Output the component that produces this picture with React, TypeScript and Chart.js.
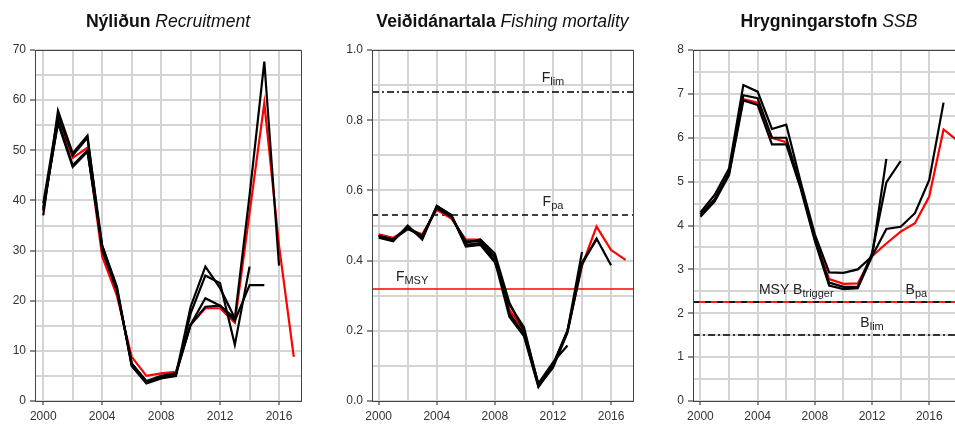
import React, { useEffect, useRef } from 'react';
import { Chart, registerables } from 'chart.js';

Chart.register(...registerables);

const FONT = "'Liberation Sans', Arial, Helvetica, sans-serif";

// ---------- Recruitment ----------
const recYears = [2000, 2001, 2002, 2003, 2004, 2005, 2006, 2007, 2008, 2009, 2010, 2011, 2012, 2013, 2014, 2015, 2016, 2017];
const recFinal = [38, 56, 48.5, 50.5, 28.8, 21, 8.8, 5.0, 5.5, 5.8, 15.2, 18.5, 18.5, 15.6, 37.5, 59.4, 31, 8.8];
const recRetro2016 = [37, 57.9, 49.4, 52.9, 30, 22, 7.5, 4.0, 5.0, 5.5, 15.2, 18.8, 19, 16.5, 41, 67.7, 27];
const recRetro2015 = [39.4, 57, 49, 52.5, 31, 22.5, 7.2, 3.8, 4.8, 5.3, 15.2, 20.5, 19, 16, 23.1, 23.1];
const recRetro2014 = [38.5, 55.4, 46.7, 49.7, 31, 22.8, 7, 3.5, 4.5, 5.0, 17.5, 25, 23.5, 11.2, 26.8];
const recRetro2013 = [38, 55.8, 47, 50, 30.5, 22, 7.5, 3.8, 4.6, 5.2, 18.8, 26.8, 22.5, 16.5];

// ---------- Fishing mortality ----------
const fYears = [2000, 2001, 2002, 2003, 2004, 2005, 2006, 2007, 2008, 2009, 2010, 2011, 2012, 2013, 2014, 2015, 2016, 2017];
const fFinal = [0.475, 0.465, 0.49, 0.475, 0.545, 0.52, 0.46, 0.46, 0.41, 0.26, 0.2, 0.045, 0.1, 0.2, 0.385, 0.497, 0.43, 0.402];
const fRetro2016 = [0.47, 0.46, 0.49, 0.47, 0.55, 0.525, 0.455, 0.455, 0.41, 0.25, 0.19, 0.042, 0.095, 0.195, 0.39, 0.463, 0.387];
const fRetro2015 = [0.47, 0.46, 0.495, 0.465, 0.555, 0.53, 0.445, 0.45, 0.4, 0.24, 0.185, 0.04, 0.1, 0.2, 0.395, 0.46];
const fRetro2014 = [0.465, 0.455, 0.5, 0.46, 0.556, 0.53, 0.44, 0.445, 0.395, 0.275, 0.21, 0.045, 0.105, 0.2, 0.425];
const fRetro2013 = [0.47, 0.46, 0.495, 0.47, 0.55, 0.525, 0.45, 0.46, 0.42, 0.28, 0.2, 0.05, 0.11, 0.158];
const fLim = 0.88;
const fPa = 0.53;
const fMsy = 0.32;

// ---------- SSB ----------
const ssbYears = [2000, 2001, 2002, 2003, 2004, 2005, 2006, 2007, 2008, 2009, 2010, 2011, 2012, 2013, 2014, 2015, 2016, 2017, 2018];
const ssbFinal = [4.25, 4.6, 5.2, 6.88, 6.8, 6.0, 5.9, 4.9, 3.7, 2.78, 2.67, 2.68, 3.3, 3.59, 3.86, 4.05, 4.66, 6.19, 5.93];
const ssbRetro2017 = [4.2, 4.55, 5.15, 6.85, 6.75, 5.85, 5.85, 4.85, 3.65, 2.63, 2.55, 2.57, 3.3, 3.92, 3.97, 4.28, 5.04, 6.8];
const ssbRetro2014 = [4.25, 4.6, 5.2, 6.97, 6.9, 6.0, 6.0, 4.9, 3.7, 2.7, 2.6, 2.6, 3.37, 4.98, 5.47];
const ssbRetro2013 = [4.3, 4.7, 5.3, 7.2, 7.05, 6.2, 6.3, 5.0, 3.8, 2.93, 2.92, 3.0, 3.3, 5.52];
const bTrigger = 2.25;
const bPa = 2.25;
const bLim = 1.5;

type RefLine = { value: number; colors: string[]; dash: number[]; width: number };
type RefLabel = { main: string; sub: string; xYear: number; value: number; offset: number };

type Panel = {
  canvasLeft: number;
  canvasWidth: number;
  yAxisWidth: number;
  padRight: number;
  xMin: number;
  xMax: number;
  yMax: number;
  yGridStep: number;
  yLabelStep: number;
  decimals: number;
  titleBold: string;
  titleItalic: string;
  series: { years: number[]; values: number[]; color: string }[];
  refLines: RefLine[];
  refLabels: RefLabel[];
};

const toPoints = (years: number[], values: number[]) => values.map((v, i) => ({ x: years[i], y: v }));

const panels: Panel[] = [
  {
    canvasLeft: 0,
    canvasWidth: 320,
    yAxisWidth: 35,
    padRight: 19,
    xMin: 1999.44,
    xMax: 2017.49,
    yMax: 70,
    yGridStep: 5,
    yLabelStep: 10,
    decimals: 0,
    titleBold: 'Nýliðun',
    titleItalic: 'Recruitment',
    series: [
      { years: recYears, values: recRetro2016, color: '#000' },
      { years: recYears, values: recRetro2015, color: '#000' },
      { years: recYears, values: recRetro2014, color: '#000' },
      { years: recYears, values: recRetro2013, color: '#000' },
      { years: recYears, values: recFinal, color: '#ff0000' },
    ],
    refLines: [],
    refLabels: [],
  },
  {
    canvasLeft: 330,
    canvasWidth: 310,
    yAxisWidth: 42,
    padRight: 7,
    xMin: 1999.54,
    xMax: 2017.51,
    yMax: 1.0,
    yGridStep: 0.1,
    yLabelStep: 0.2,
    decimals: 1,
    titleBold: 'Veiðidánartala',
    titleItalic: 'Fishing mortality',
    series: [
      { years: fYears, values: fRetro2016, color: '#000' },
      { years: fYears, values: fRetro2015, color: '#000' },
      { years: fYears, values: fRetro2014, color: '#000' },
      { years: fYears, values: fRetro2013, color: '#000' },
      { years: fYears, values: fFinal, color: '#ff0000' },
    ],
    refLines: [
      { value: fLim, colors: ['#000'], dash: [7, 3, 2, 3], width: 1.5 },
      { value: fPa, colors: ['#000'], dash: [6, 4], width: 1.5 },
      { value: fMsy, colors: ['#ff0000'], dash: [], width: 1.6 },
    ],
    refLabels: [
      { main: 'F', sub: 'lim', xYear: 2012, value: fLim, offset: 10 },
      { main: 'F', sub: 'pa', xYear: 2012, value: fPa, offset: 9 },
      { main: 'F', sub: 'MSY', xYear: 2002.3, value: fMsy, offset: 8 },
    ],
  },
  {
    canvasLeft: 645,
    canvasWidth: 330,
    yAxisWidth: 48,
    padRight: 10,
    xMin: 1999.48,
    xMax: 2018.5,
    yMax: 8,
    yGridStep: 0.5,
    yLabelStep: 1,
    decimals: 0,
    titleBold: 'Hrygningarstofn',
    titleItalic: 'SSB',
    series: [
      { years: ssbYears, values: ssbRetro2017, color: '#000' },
      { years: ssbYears, values: ssbRetro2014, color: '#000' },
      { years: ssbYears, values: ssbRetro2013, color: '#000' },
      { years: ssbYears, values: ssbFinal, color: '#ff0000' },
    ],
    refLines: [
      { value: bTrigger, colors: ['#000', '#ff0000'], dash: [6, 6], width: 1.8 },
      { value: bLim, colors: ['#000'], dash: [7, 3, 2, 3], width: 1.5 },
    ],
    refLabels: [
      { main: 'MSY B', sub: 'trigger', xYear: 2006.7, value: bTrigger, offset: 8 },
      { main: 'B', sub: 'pa', xYear: 2015.1, value: bPa, offset: 8 },
      { main: 'B', sub: 'lim', xYear: 2012, value: bLim, offset: 8 },
    ],
  },
];

const isMultiple = (v: number, step: number) => Math.abs(v / step - Math.round(v / step)) < 1e-6;

function makeConfig(p: Panel): any {
  const decorPlugin = {
    id: 'decor',
    beforeDatasetsDraw(chart: any) {
      const { ctx, chartArea, scales } = chart;
      ctx.save();
      ctx.beginPath();
      ctx.rect(chartArea.left, chartArea.top, chartArea.right - chartArea.left, chartArea.bottom - chartArea.top);
      ctx.clip();
      p.refLines.forEach((rl) => {
        const y = Math.round(scales.y.getPixelForValue(rl.value));
        rl.colors.forEach((c, i) => {
          ctx.beginPath();
          ctx.strokeStyle = c;
          ctx.lineWidth = rl.width;
          ctx.setLineDash(rl.dash);
          ctx.lineDashOffset = rl.dash.length ? -i * rl.dash[0] : 0;
          ctx.moveTo(chartArea.left, y);
          ctx.lineTo(chartArea.right, y);
          ctx.stroke();
        });
      });
      ctx.setLineDash([]);
      ctx.restore();
    },
    afterDraw(chart: any) {
      const { ctx, chartArea, scales } = chart;
      ctx.save();
      // box
      ctx.strokeStyle = '#444';
      ctx.lineWidth = 1;
      ctx.setLineDash([]);
      ctx.strokeRect(chartArea.left + 0.5, chartArea.top + 0.5, chartArea.right - chartArea.left, chartArea.bottom - chartArea.top);
      // title
      ctx.fillStyle = '#111';
      ctx.textBaseline = 'alphabetic';
      ctx.textAlign = 'left';
      const fs = 17.6;
      ctx.font = `bold ${fs}px ${FONT}`;
      const t1 = p.titleBold + ' ';
      const w1 = ctx.measureText(t1).width;
      ctx.font = `italic ${fs}px ${FONT}`;
      const w2 = ctx.measureText(p.titleItalic).width;
      const cx = (chartArea.left + chartArea.right) / 2;
      const x = cx - (w1 + w2) / 2;
      ctx.font = `bold ${fs}px ${FONT}`;
      ctx.fillText(t1, x, 27);
      ctx.font = `italic ${fs}px ${FONT}`;
      ctx.fillText(p.titleItalic, x + w1, 27);
      // reference labels
      ctx.fillStyle = '#222';
      p.refLabels.forEach((lb) => {
        const y = scales.y.getPixelForValue(lb.value) - lb.offset;
        ctx.font = `14px ${FONT}`;
        const mw = ctx.measureText(lb.main).width;
        ctx.font = `11px ${FONT}`;
        const sw = ctx.measureText(lb.sub).width;
        const lx = scales.x.getPixelForValue(lb.xYear) - (mw + sw) / 2;
        ctx.font = `14px ${FONT}`;
        ctx.fillText(lb.main, lx, y);
        ctx.font = `11px ${FONT}`;
        ctx.fillText(lb.sub, lx + mw, y + 3);
      });
      ctx.restore();
    },
  };

  const datasets = p.series.map((s) => ({
    data: toPoints(s.years, s.values),
    borderColor: s.color,
    backgroundColor: s.color,
    borderWidth: 2.2,
    pointRadius: 0,
    fill: false,
    tension: 0,
  }));

  return {
    type: 'line',
    data: { datasets },
    options: {
      responsive: false,
      animation: false,
      events: [],
      layout: { padding: { left: 0, right: p.padRight, top: 50, bottom: 0 } },
      plugins: { legend: { display: false }, tooltip: { enabled: false }, title: { display: false } },
      scales: {
        x: {
          type: 'linear',
          min: p.xMin,
          max: p.xMax,
          afterFit: (s: any) => {
            s.height = 23;
          },
          ticks: {
            stepSize: 2,
            includeBounds: false,
            autoSkip: false,
            maxRotation: 0,
            color: '#333',
            font: { family: FONT, size: 12 },
            padding: 4,
            callback: (v: any) => (isMultiple(Number(v), 4) ? String(Math.round(Number(v))) : ''),
          },
          grid: {
            color: '#d4d4d4',
            lineWidth: 2,
            drawTicks: true,
            tickLength: 4,
            tickWidth: 1.2,
            tickColor: (ctx: any) => (ctx.tick && isMultiple(ctx.tick.value, 4) ? '#444' : 'rgba(0,0,0,0)'),
          },
          border: { display: true, color: '#444', width: 1 },
        },
        y: {
          type: 'linear',
          min: 0,
          max: p.yMax,
          afterFit: (s: any) => {
            s.width = p.yAxisWidth;
          },
          ticks: {
            stepSize: p.yGridStep,
            includeBounds: false,
            autoSkip: false,
            color: '#333',
            font: { family: FONT, size: 12 },
            padding: 4,
            callback: (v: any) => (isMultiple(Number(v), p.yLabelStep) ? Number(v).toFixed(p.decimals) : ''),
          },
          grid: {
            color: '#d4d4d4',
            lineWidth: 2,
            drawTicks: true,
            tickLength: 5,
            tickWidth: 1.2,
            tickColor: (ctx: any) => (ctx.tick && isMultiple(ctx.tick.value, p.yLabelStep) ? '#444' : 'rgba(0,0,0,0)'),
          },
          border: { display: true, color: '#444', width: 1 },
        },
      },
    },
    plugins: [decorPlugin],
  };
}

function PanelChart({ p }: { p: Panel }) {
  const ref = useRef<HTMLCanvasElement | null>(null);
  useEffect(() => {
    if (!ref.current) return;
    const chart = new Chart(ref.current, makeConfig(p));
    return () => chart.destroy();
  }, [p]);
  return (
    <canvas
      ref={ref}
      width={p.canvasWidth}
      height={424}
      style={{ position: 'absolute', left: p.canvasLeft, top: 0, width: p.canvasWidth, height: 424 }}
    />
  );
}

export default function App() {
  return (
    <div
      style={{
        position: 'fixed',
        left: 0,
        top: 0,
        width: 955,
        height: 424,
        overflow: 'hidden',
        background: '#fff',
      }}
    >
      {panels.map((p, i) => (
        <PanelChart key={i} p={p} />
      ))}
    </div>
  );
}
